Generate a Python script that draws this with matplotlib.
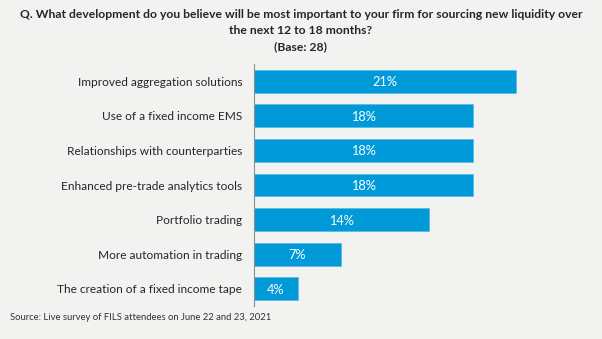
import matplotlib
matplotlib.use("Agg")
import matplotlib.pyplot as plt

categories = [
    "Improved aggregation solutions",
    "Use of a fixed income EMS",
    "Relationships with counterparties",
    "Enhanced pre-trade analytics tools",
    "Portfolio trading",
    "More automation in trading",
    "The creation of a fixed income tape",
]
values = [21.4, 17.9, 17.9, 17.9, 14.3, 7.1, 3.6]
value_labels = ["21%", "18%", "18%", "18%", "14%", "7%", "4%"]

title_lines = [
    "Q. What development do you believe will be most important to your firm for sourcing new liquidity over",
    "the next 12 to 18 months?",
    "(Base: 28)",
]
source = "Source: Live survey of FILS attendees on June 22 and 23, 2021"

BG = "#f2f2f1"
BAR = "#009ad9"

plt.rcParams["font.family"] = ["Lato", "DejaVu Sans"]

W, H = 602, 339
fig = plt.figure(figsize=(W / 100, H / 100), dpi=100, facecolor=BG)
ax = fig.add_axes([254 / W, 1 - 306 / H, (597 - 254) / W, (306 - 64) / H])
ax.set_facecolor(BG)

y = list(range(len(categories)))
bars = ax.barh(y, values, height=0.66, color=BAR, edgecolor="#5cbbe8", linewidth=0.6)
ax.set_xlim(0, 28)
ax.set_ylim(6.5, -0.5)

for yi, v, lab in zip(y, values, value_labels):
    ax.text(v / 2, yi, lab, ha="center", va="center_baseline", color="white", fontsize=9.2)

ax.set_yticks(y)
ax.set_yticklabels(categories, fontsize=8.6, color="#262626")
ax.tick_params(axis="y", length=0, pad=8.5)
ax.set_xticks([])
for s in ["top", "right", "bottom"]:
    ax.spines[s].set_visible(False)
ax.spines["left"].set_color("#8c8c8c")
ax.spines["left"].set_linewidth(0.8)

ys = [14, 31, 47]
for t, yy in zip(title_lines, ys):
    fig.text(0.5, 1 - yy / H, t, ha="center", va="center",
             fontsize=8.75, fontweight="bold", color="#262626")

fig.text(10 / W, 1 - 318 / H, source, ha="left", va="center", fontsize=6.8, color="#333333")

fig.savefig("out.png", dpi=100, facecolor=BG)
